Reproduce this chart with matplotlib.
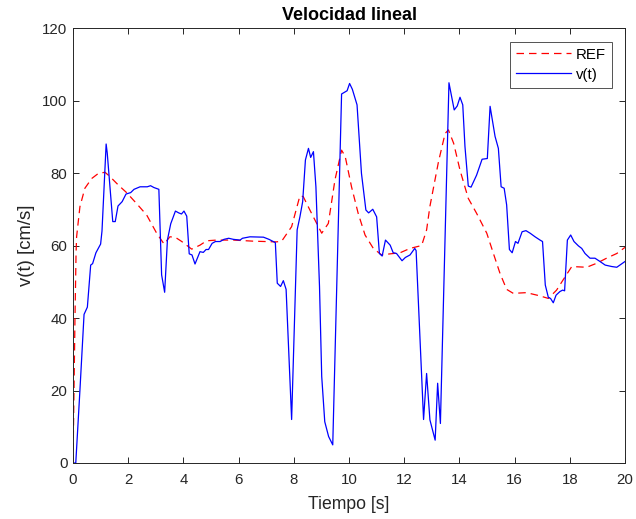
import numpy as np
import matplotlib
matplotlib.use("Agg")
import matplotlib.pyplot as plt

plt.rcParams['font.family'] = ['Liberation Sans', 'DejaVu Sans']

# referencia (REF)
t_ref = [0, 0.07, 0.11, 0.13, 0.25, 0.43, 0.68, 0.92, 1.16, 1.34, 1.64, 1.94, 2.3,
         2.67, 3.03, 3.3, 3.51, 3.7, 3.94, 4.3, 4.6, 4.84, 5.2, 5.81, 6.53, 7.37,
         7.56, 7.92, 8.22, 8.34, 8.64, 9.01, 9.25, 9.49, 9.73, 9.86, 10.09, 10.33,
         10.58, 10.88, 11.18, 11.49, 11.85, 12.21, 12.63, 12.81, 12.93, 13.24,
         13.48, 13.6, 13.79, 14.02, 14.32, 14.62, 14.99, 15.23, 15.47, 15.71,
         15.95, 16.43, 16.92, 17.22, 17.52, 17.83, 18.07, 18.61, 18.97, 19.33,
         19.7, 20.0]
v_ref = [0, 39.4, 57.8, 62.4, 70.7, 75.8, 78.5, 79.9, 80.2, 79.0, 76.7, 74.6, 71.6,
         68.4, 63.4, 60.4, 62.4, 62.3, 61.1, 59.0, 60.1, 61.3, 61.5, 61.5, 61.2, 61.0,
         61.2, 65.2, 73.7, 73.5, 68.9, 63.4, 66.1, 78.1, 86.3, 84.6, 76.2, 68.9,
         62.9, 59.2, 57.4, 57.7, 58.0, 59.2, 60.0, 64.3, 70.8, 83.1,
         90.9, 91.9, 88.2, 80.8, 73.0, 68.9, 63.4, 57.8, 52.3, 47.9,
         46.8, 47.0, 46.1, 45.4, 47.7, 51.4, 54.2, 54.0, 55.1, 56.5,
         57.8, 59.5]

# velocidad medida v(t)
t_v = [0, 0.1, 0.25, 0.4, 0.52, 0.64, 0.71, 0.83, 1.0, 1.05, 1.2, 1.24, 1.44, 1.53,
       1.63, 1.78, 1.92, 2.09, 2.21, 2.43, 2.69, 2.81, 2.93, 3.11, 3.21, 3.32, 3.42,
       3.54, 3.71, 3.83, 3.93, 4.02, 4.12, 4.21, 4.31, 4.42, 4.6, 4.72, 4.82, 4.91,
       5.04, 5.16, 5.33, 5.47, 5.64, 5.81, 6.05, 6.14, 6.41, 6.9, 7.1, 7.33, 7.4,
       7.52, 7.62, 7.72, 7.92, 8.12, 8.22, 8.32, 8.42, 8.53, 8.61, 8.71, 8.8, 8.93,
       9.01, 9.12, 9.26, 9.41, 9.73, 9.86, 9.93, 10.02, 10.12, 10.29, 10.45, 10.61,
       10.71, 10.86, 11.0, 11.1, 11.2, 11.32, 11.49, 11.6, 11.72, 11.92, 12.04,
       12.21, 12.38, 12.43, 12.7, 12.81, 12.93, 13.12, 13.21, 13.31, 13.62, 13.81,
       13.92, 14.02, 14.12, 14.2, 14.32, 14.42, 14.62, 14.82, 15.01, 15.11, 15.29,
       15.41, 15.51, 15.62, 15.71, 15.81, 15.91, 16.03, 16.12, 16.27, 16.41, 16.56,
       16.74, 16.92, 17.01, 17.11, 17.22, 17.3, 17.4, 17.5, 17.64, 17.74, 17.81,
       17.91, 18.03, 18.15, 18.31, 18.43, 18.55, 18.73, 18.91, 19.09, 19.28, 19.52,
       19.7, 20.0]
v_med = [0, 0, 20, 41, 43, 54.6, 55, 58, 60.4, 64, 88, 85.5, 66.6, 66.6,
         70.9, 72.1, 74.2, 74.6, 75.5, 76.2, 76.2, 76.5, 76.0, 75.5, 51.9, 47.1, 61.5,
         66.0, 69.5, 69.0, 68.7, 69.5, 68.1, 57.7, 57.4, 54.9, 58.3, 58.1, 58.9, 58.9,
         60.6, 61.1, 61.1, 61.7, 62.0, 61.7, 61.5, 62.0, 62.4, 62.3, 61.7, 60.8, 49.6,
         48.7, 50.3, 47.9, 12.0, 64.3, 67.9, 72.1, 83.6, 86.8, 84.3, 85.9, 76.2, 48.7,
         23.9, 11.4, 7.3, 5.0, 101.8, 102.4, 102.7, 104.7, 103.1, 98.8, 79.9, 69.8,
         69.0, 70.0, 67.9, 57.8, 57.1, 61.5, 60.1, 58.0, 57.8, 55.8, 56.7,
         57.4, 59.2, 58.6, 12.0, 24.7, 11.9, 6.3, 22.0, 10.9, 104.9, 97.4,
         98.5, 100.9, 98.8, 87.3, 76.4, 76.1, 79.4, 83.8, 84.0, 98.4, 90.1,
         86.8, 76.2, 75.8, 71.2, 58.9, 58.0, 61.1, 60.6, 63.8, 64.1, 63.4,
         62.4, 61.5, 61.1, 49.1, 45.7, 45.4, 44.2, 46.3, 47.3, 47.7, 47.5,
         61.5, 62.9, 61.1, 59.9, 59.2, 57.8, 56.5, 56.5, 55.6, 54.6, 54.2,
         54.0, 55.6]

axis_col = '#262626'

fig = plt.figure(figsize=(6.36, 5.19), dpi=100)
ax = fig.add_axes([0.1148, 0.1079, 0.868, 0.8381])

ax.plot(t_ref, v_ref, color='red', lw=0.9, dashes=(6, 4), label='REF')
ax.plot(t_v, v_med, color='blue', lw=0.9, label='v(t)')

ax.set_xlim(0, 20)
ax.set_ylim(0, 120)
ax.set_xticks(np.arange(0, 21, 2))
ax.set_yticks(np.arange(0, 121, 20))
ax.tick_params(direction='in', top=True, right=True, length=4, width=0.7,
               colors=axis_col, labelsize=10.8)
ax.tick_params(axis='x', pad=7)
ax.tick_params(axis='y', pad=4)
for s in ax.spines.values():
    s.set_color(axis_col)
    s.set_linewidth(0.7)

ax.set_title('Velocidad lineal', fontsize=13, fontweight='bold', color='black', pad=6)
ax.set_xlabel('Tiempo [s]', fontsize=12.7, color=axis_col, labelpad=7)
ax.set_ylabel('v(t) [cm/s]', fontsize=13.3, color=axis_col, labelpad=5)

leg = ax.legend(loc='upper right', fontsize=10.8, handlelength=3.7, fancybox=False,
                borderaxespad=0.9, handletextpad=0.3, labelspacing=0.4)
leg.get_frame().set_edgecolor(axis_col)
leg.get_frame().set_linewidth(0.7)

fig.savefig('out.png', dpi=100, facecolor='white')
